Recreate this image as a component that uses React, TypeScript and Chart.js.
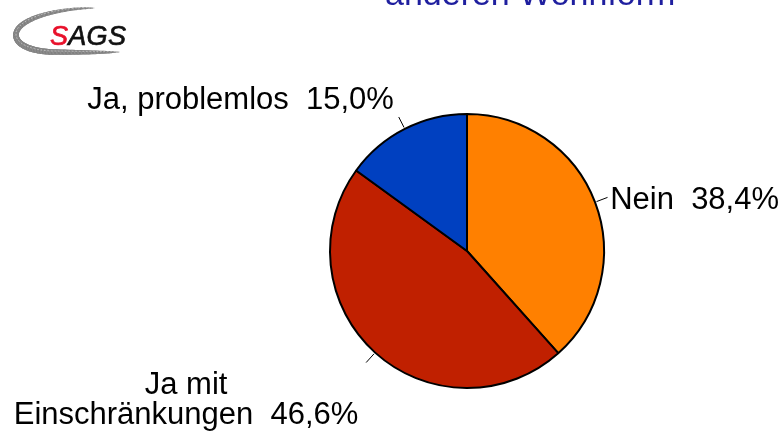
import React, { useEffect, useRef } from "react";
import { Chart, registerables } from "chart.js";

Chart.register(...registerables);

// ---- data ----
const categories: string[][] = [["Nein"], ["Ja mit", "Einschränkungen"], ["Ja, problemlos"]];
const shares: number[] = [38.4, 46.6, 15.0];
const sliceColors: string[] = ["#FF8000", "#C02000", "#0040C0"];
const titleLine = "anderen Wohnform";
const logoLetters: string[] = ["S", "A", "G", "S"];

const FONT = '"Liberation Sans", Arial, Helvetica, sans-serif';

const fmtPct = (v: number) => v.toFixed(1).replace(".", ",") + "%";

type Pt = [number, number];
const cubic = (p0: Pt, p1: Pt, p2: Pt, p3: Pt, t: number): Pt => {
  const u = 1 - t;
  return [
    u * u * u * p0[0] + 3 * u * u * t * p1[0] + 3 * u * t * t * p2[0] + t * t * t * p3[0],
    u * u * u * p0[1] + 3 * u * u * t * p1[1] + 3 * u * t * t * p2[1] + t * t * t * p3[1],
  ];
};

const decorPlugin = {
  id: "decor",
  afterDraw(chart: any) {
    const ctx: CanvasRenderingContext2D = chart.ctx;
    ctx.save();

    // title (cut off at top)
    ctx.font = `34px ${FONT}`;
    ctx.fillStyle = "#1F1F9F";
    ctx.textAlign = "left";
    ctx.textBaseline = "alphabetic";
    ctx.fillText(titleLine, 385, 5);

    // logo swoosh (tapered band)
    const segs: [Pt, Pt, Pt, Pt][] = [
      [[94, 8], [60, 8], [18, 18], [16, 34]],
      [[16, 34], [15, 46], [35, 52], [55, 52]],
      [[55, 52], [80, 52.5], [100, 52.5], [119, 52]],
    ];
    const pts: Pt[] = [];
    segs.forEach((sg, si) => {
      const n = 60;
      for (let k = si === 0 ? 0 : 1; k <= n; k++) pts.push(cubic(sg[0], sg[1], sg[2], sg[3], k / n));
    });
    ctx.lineCap = "round";
    for (let k = 0; k < pts.length - 1; k++) {
      const t = k / (pts.length - 1);
      const w = 0.8 + 5.2 * Math.pow(Math.sin(Math.PI * Math.min(1, t * 1.02)), 0.6);
      ctx.strokeStyle = k % 3 === 0 ? "rgba(150,150,150,0.75)" : "rgba(128,128,128,0.85)";
      ctx.lineWidth = w;
      ctx.beginPath();
      ctx.moveTo(pts[k][0], pts[k][1]);
      ctx.lineTo(pts[k + 1][0], pts[k + 1][1]);
      ctx.stroke();
    }
    // speckle texture
    ctx.setLineDash([1, 2.5]);
    ctx.strokeStyle = "rgba(255,255,255,0.45)";
    ctx.lineWidth = 1;
    ctx.beginPath();
    pts.forEach((p, k) => (k === 0 ? ctx.moveTo(p[0], p[1] - 1) : ctx.lineTo(p[0], p[1] - 1)));
    ctx.stroke();
    ctx.setLineDash([]);

    // logo text
    ctx.font = `italic 27px ${FONT}`;
    ctx.textBaseline = "alphabetic";
    ctx.textAlign = "left";
    ctx.lineWidth = 0.7;
    let lx = 50;
    logoLetters.forEach((ch, k) => {
      const col = k === 0 ? "#E8102A" : "#111111";
      ctx.fillStyle = col;
      ctx.strokeStyle = col;
      ctx.fillText(ch, lx, 45);
      ctx.strokeText(ch, lx, 45);
      lx += ctx.measureText(ch).width + 0.3;
    });

    // slice labels with leader lines
    const meta = chart.getDatasetMeta(0);
    ctx.font = `31px ${FONT}`;
    ctx.fillStyle = "#000000";
    meta.data.forEach((arc: any, i: number) => {
      const { x, y, startAngle, endAngle, outerRadius } = arc.getProps(
        ["x", "y", "startAngle", "endAngle", "outerRadius"],
        true
      );
      const mid = (startAngle + endAngle) / 2;
      const c = Math.cos(mid), s = Math.sin(mid);
      const x1 = x + c * (outerRadius + 2), y1 = y + s * (outerRadius + 2);
      const x2 = x + c * (outerRadius + 13), y2 = y + s * (outerRadius + 13);
      ctx.strokeStyle = "#000";
      ctx.lineWidth = 1;
      ctx.beginPath();
      ctx.moveTo(x1, y1);
      ctx.lineTo(x2, y2);
      ctx.stroke();

      const lines = categories[i].slice();
      lines[lines.length - 1] = lines[lines.length - 1] + "  " + fmtPct(shares[i]);
      ctx.textBaseline = "alphabetic";
      if (c > 0.2) {
        ctx.textAlign = "left";
        lines.forEach((ln, k) => ctx.fillText(ln, x2 + 3, y2 + 11 + k * 31));
      } else if (s < 0) {
        ctx.textAlign = "right";
        const n = lines.length;
        lines.forEach((ln, k) => ctx.fillText(ln, x2 - 5, y2 - 8 - (n - 1 - k) * 31));
      } else {
        const widths = lines.map((ln) => ctx.measureText(ln).width);
        const maxW = Math.max(...widths);
        const centerX = x2 - 8 - maxW / 2;
        ctx.textAlign = "center";
        lines.forEach((ln, k) => ctx.fillText(ln, centerX, y2 + 32 + k * 30));
      }
    });

    ctx.restore();
  },
};

export default function App() {
  const ref = useRef<HTMLCanvasElement | null>(null);

  useEffect(() => {
    document.body.style.margin = "0";
    const canvas = ref.current;
    if (!canvas) return;
    const chart = new Chart(canvas, {
      type: "pie",
      data: {
        labels: categories,
        datasets: [
          {
            data: shares,
            backgroundColor: sliceColors,
            borderColor: "#000000",
            borderWidth: 2,
          },
        ],
      },
      options: {
        animation: false,
        responsive: true,
        maintainAspectRatio: false,
        radius: 137,
        layout: { padding: { left: 154, right: 0, top: 67, bottom: 0 } },
        plugins: {
          legend: { display: false },
          tooltip: { enabled: false },
          title: { display: false },
        },
      } as any,
      plugins: [decorPlugin],
    });
    return () => chart.destroy();
  }, []);

  return (
    <div style={{ width: 780, height: 435, position: "relative", background: "#fff" }}>
      <canvas ref={ref} />
    </div>
  );
}
